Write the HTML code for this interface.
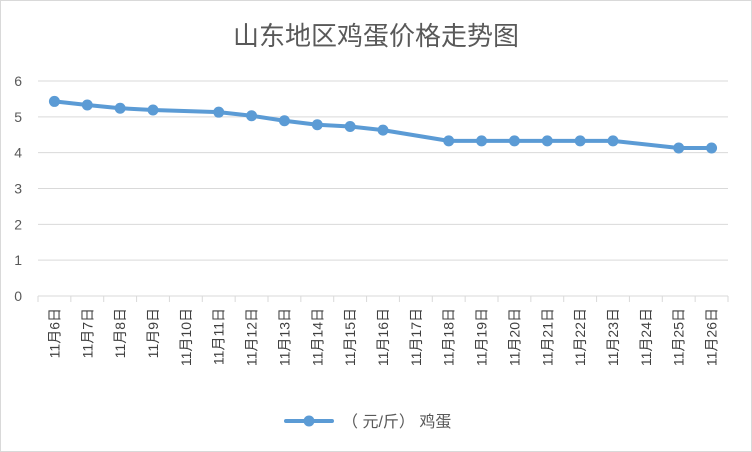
<!DOCTYPE html>
<html><head><meta charset="utf-8"><style>
body{margin:0;background:#fff;}
svg{display:block;font-family:"Liberation Sans","Noto Sans CJK SC",sans-serif;}
</style></head><body>
<svg id="chart" width="752" height="452">
<rect x="0.5" y="0.5" width="751" height="451" fill="#fff" stroke="#d9d9d9"/>
<text x="376" y="45" text-anchor="middle" font-size="26" fill="#595959">山东地区鸡蛋价格走势图</text>
<g id="grid"></g><g id="yt"></g><g id="xt"></g><g id="series"></g>
<g>
<line x1="286" y1="421" x2="332" y2="421" stroke="#5b9bd5" stroke-width="4" stroke-linecap="round"/>
<circle cx="309" cy="421" r="5.5" fill="#5b9bd5"/>
<text x="342" y="427" font-size="16" fill="#595959">（ 元/斤） 鸡蛋</text>
</g>
</svg>
<script>
const categories=["11月6日","11月7日","11月8日","11月9日","11月10日","11月11日","11月12日","11月13日","11月14日","11月15日","11月16日","11月17日","11月18日","11月19日","11月20日","11月21日","11月22日","11月23日","11月24日","11月25日","11月26日"];
const prices=[5.43,5.33,5.24,5.19,null,5.13,5.03,4.89,4.78,4.73,4.63,null,4.33,4.33,4.33,4.33,4.33,4.33,null,4.13,4.13];
const yTicks=[0,1,2,3,4,5,6];
const NS="http://www.w3.org/2000/svg";
const L=38,R=728,T=81,B=296,yMax=6;
const step=(R-L)/categories.length;
const xs=i=>L+step*(i+0.5);
const ys=v=>B-(v/yMax)*(B-T);
function mk(p,tag,a){const e=document.createElementNS(NS,tag);for(const k in a)e.setAttribute(k,a[k]);p.appendChild(e);return e;}
const grid=document.getElementById('grid'),yt=document.getElementById('yt'),xt=document.getElementById('xt'),se=document.getElementById('series');
yTicks.forEach(t=>{
 const l=mk(grid,'line',{x1:L,x2:R,y1:ys(t),y2:ys(t),stroke:'#d9d9d9','stroke-width':1});
 
 
 const tx=mk(yt,'text',{x:22,y:ys(t)+5,'text-anchor':'end','font-size':14,fill:'#595959'});tx.textContent=t;
 
 
});
categories.forEach((c,i)=>{
 const x0=L+step*i;
 const tk=mk(grid,'line',{x1:x0,x2:x0,y1:B,y2:B+6,stroke:'#d9d9d9'});
 
 
 const tx=mk(xt,'text',{transform:`translate(${xs(i)+5},${B+12}) rotate(-90)`,'text-anchor':'end','font-size':14,fill:'#404040'});tx.textContent=c;
 
 
});
mk(grid,'line',{x1:R,x2:R,y1:B,y2:B+6,stroke:'#d9d9d9'});
const pts=prices.map((v,i)=>v==null?null:[xs(i),ys(v)]).filter(p=>p);
const pl=mk(se,'polyline',{points:pts.map(p=>p.join(',')).join(' '),fill:'none',stroke:'#5b9bd5','stroke-width':4,'stroke-linejoin':'round','stroke-linecap':'round'});


prices.forEach((v,i)=>{if(v==null)return;
 const c=mk(se,'circle',{cx:xs(i),cy:ys(v),r:5.5,fill:'#5b9bd5'});
 
 
});
</script>
</body></html>
